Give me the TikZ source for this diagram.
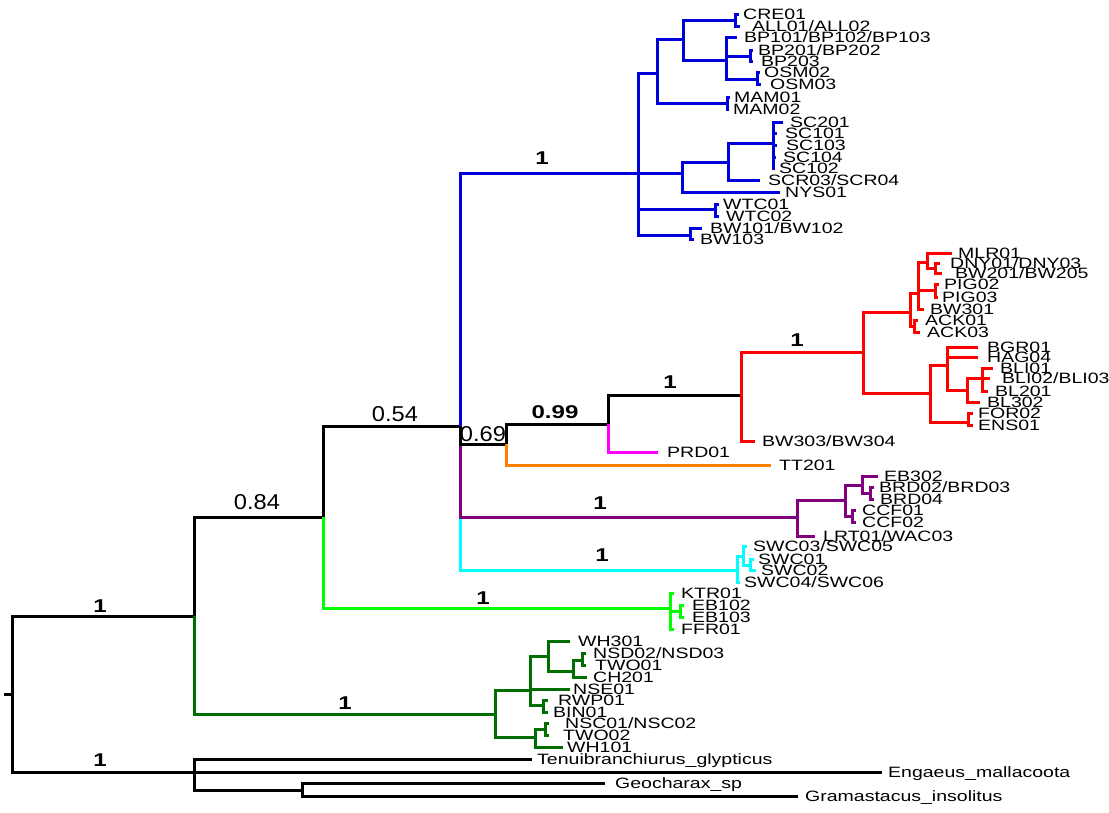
\documentclass[tikz,border=0pt]{standalone}
\usepackage{fontspec}
\newfontfamily\labfont[FakeStretch=1.3]{Liberation Sans}
\newfontfamily\numfont[FakeStretch=1.1]{Liberation Sans}
\newfontfamily\numbfont[FakeStretch=1.3]{Liberation Sans}
\definecolor{cblue}{RGB}{0,0,220}
\definecolor{cred}{RGB}{255,0,0}
\definecolor{cpurple}{RGB}{128,0,128}
\definecolor{ccyan}{RGB}{0,255,255}
\definecolor{clgreen}{RGB}{0,255,0}
\definecolor{cdgreen}{RGB}{0,110,0}
\definecolor{corange}{RGB}{255,128,0}
\definecolor{cmagenta}{RGB}{255,0,255}
\tikzset{
  br/.style={line width=3pt},
  leaf/.style={anchor=west, inner sep=0pt, text height=10.7pt, text depth=0pt,
    font=\labfont\fontsize{15}{16}\selectfont},
  bsr/.style={inner sep=0pt, font=\numfont\fontsize{21.5}{22}\selectfont},
  bsb/.style={inner sep=0pt, font=\numbfont\bfseries\fontsize{18.5}{19}\selectfont}
}
% #1 colour, #2 parent, #3 name, #4 tip x, #5 text x, #6 y, #7 text
\newcommand\mkleaf[7]{\node[leaf] (#3) at (#5,#6) {#7};
  \draw[br,#1] (#2) |- ([xshift=#4pt-#5pt]#3.west);}
% #1 colour, #2 parent, #3 name, #4 x, #5 y
\newcommand\mkint[5]{\coordinate (#3) at (#4,#5); \draw[br,#1] (#2) |- (#3);}
\begin{document}
\begin{tikzpicture}[x=1pt,y=-1pt]
\useasboundingbox (0,0) rectangle (1109,812);
% root
\coordinate (stub) at (4,694);
\coordinate (rt) at (12,694);
\draw[br] (stub) -- (rt);
\mkint{black}{rt}{I1}{194}{616}
\mkint{black}{I1}{I2}{323}{517}
\mkint{cdgreen}{I1}{G0}{495}{714}
\mkint{black}{I2}{I3}{460}{426}
\mkint{clgreen}{I2}{LG}{670}{608}
\mkint{ccyan}{I3}{C0}{737}{570}
\mkint{cpurple}{I3}{P1}{797}{517}
\mkint{cblue}{I3}{B0}{638}{173}
\mkint{black}{I3}{I4}{506}{444}
\mkint{black}{I4}{I5}{608}{424}
\mkleaf{corange}{I4}{lTT201}{771}{779}{465}{TT201}
\mkint{black}{I5}{R}{741}{395}
\mkleaf{cmagenta}{I5}{lPRD01}{658}{667}{452}{PRD01}
\mkint{cred}{R}{R0}{863}{352}
\mkleaf{cred}{R}{lBW303}{755}{762}{441}{BW303/BW304}
% red clade
\mkint{cred}{R0}{Ru}{910}{312}
\mkint{cred}{R0}{Rl}{930}{393}
\mkint{cred}{Ru}{R2}{918}{293}
\mkint{cred}{Ru}{ACK}{914}{326}
\mkleaf{cred}{ACK}{lACK01}{918}{925}{320}{ACK01}
\mkleaf{cred}{ACK}{lACK03}{920}{927}{332}{ACK03}
\mkint{cred}{R2}{R3}{927}{262}
\mkint{cred}{R2}{PIG}{935}{290}
\mkleaf{cred}{R2}{lBW301}{924}{930}{309}{BW301}
\mkleaf{cred}{R3}{lMLR01}{952}{958}{253}{MLR01}
\mkint{cred}{R3}{DB}{935}{268}
\mkleaf{cred}{DB}{lDNY}{940}{950}{263}{DNY01/DNY03}
\mkleaf{cred}{DB}{lBW201}{942}{955}{273}{BW201/BW205}
\mkleaf{cred}{PIG}{lPIG02}{939}{944}{284}{PIG02}
\mkleaf{cred}{PIG}{lPIG03}{938}{942}{297}{PIG03}
\mkint{cred}{Rl}{Rh}{947}{365}
\mkint{cred}{Rl}{FE}{968}{422}
\mkleaf{cred}{Rh}{lBGR01}{978}{987}{347}{BGR01}
\mkleaf{cred}{Rh}{lHAG04}{978}{987}{357}{HAG04}
\mkint{cred}{Rh}{BLn}{967}{390}
\mkint{cred}{BLn}{BLI}{982}{378}
\mkleaf{cred}{BLn}{lBL302}{980}{987}{402}{BL302}
\mkleaf{cred}{BLI}{lBLI01}{993}{1000}{368}{BLI01}
\mkleaf{cred}{BLI}{lBLI02}{990}{1002}{378}{BLI02/BLI03}
\mkleaf{cred}{BLI}{lBL201}{988}{995}{391}{BL201}
\mkleaf{cred}{FE}{lFOR02}{973}{978}{413}{FOR02}
\mkleaf{cred}{FE}{lENS01}{973}{978}{425}{ENS01}
% blue clade
\mkint{cblue}{B0}{B1}{657}{73}
\mkint{cblue}{B0}{B6}{682}{173}
\mkint{cblue}{B0}{WTC}{715}{209}
\mkint{cblue}{B0}{BW}{690}{235}
\mkint{cblue}{B1}{B2}{683}{39}
\mkint{cblue}{B1}{MAM}{727}{103}
\mkint{cblue}{B2}{CA}{735}{20}
\mkint{cblue}{B2}{B3}{726}{60}
\mkleaf{cblue}{CA}{lCRE01}{739}{743}{14}{CRE01}
\mkleaf{cblue}{CA}{lALL}{740}{752}{26}{ALL01/ALL02}
\mkleaf{cblue}{B3}{lBP101}{737}{744}{37}{BP101/BP102/BP103}
\mkint{cblue}{B3}{BPb}{750}{56}
\mkint{cblue}{B3}{OSM}{757}{79}
\mkleaf{cblue}{BPb}{lBP201}{753}{758}{50}{BP201/BP202}
\mkleaf{cblue}{BPb}{lBP203}{753}{761}{61}{BP203}
\mkleaf{cblue}{OSM}{lOSM02}{760}{764}{72}{OSM02}
\mkleaf{cblue}{OSM}{lOSM03}{761}{770}{84}{OSM03}
\mkleaf{cblue}{MAM}{lMAM01}{730}{734}{97}{MAM01}
\mkleaf{cblue}{MAM}{lMAM02}{729}{733}{109}{MAM02}
\mkint{cblue}{B6}{SCn}{728}{162}
\mkleaf{cblue}{B6}{lNYS01}{780}{785}{192}{NYS01}
\mkint{cblue}{SCn}{SCc}{773}{143}
\mkleaf{cblue}{SCn}{lSCR}{760}{768}{180}{SCR03/SCR04}
\mkleaf{cblue}{SCc}{lSC201}{783}{790}{122}{SC201}
\mkleaf{cblue}{SCc}{lSC101}{777}{785}{133}{SC101}
\mkleaf{cblue}{SCc}{lSC103}{777}{786}{145}{SC103}
\mkleaf{cblue}{SCc}{lSC104}{776}{783}{157}{SC104}
\mkleaf{cblue}{SCc}{lSC102}{775}{779}{168}{SC102}
\mkleaf{cblue}{WTC}{lWTC01}{719}{723}{204}{WTC01}
\mkleaf{cblue}{WTC}{lWTC02}{719}{726}{216}{WTC02}
\mkleaf{cblue}{BW}{lBW101}{702}{710}{228}{BW101/BW102}
\mkleaf{cblue}{BW}{lBW103}{694}{700}{239}{BW103}
% purple clade
\mkint{cpurple}{P1}{P2}{845}{500}
\mkleaf{cpurple}{P1}{lLRT}{815}{823}{536}{LRT01/WAC03}
\mkint{cpurple}{P2}{P3}{862}{485}
\mkint{cpurple}{P2}{CCF}{852}{516}
\mkleaf{cpurple}{P3}{lEB302}{878}{884}{476}{EB302}
\mkint{cpurple}{P3}{BRD}{870}{493}
\mkleaf{cpurple}{BRD}{lBRD02}{874}{879}{487}{BRD02/BRD03}
\mkleaf{cpurple}{BRD}{lBRD04}{874}{880}{499}{BRD04}
\mkleaf{cpurple}{CCF}{lCCF01}{856}{862}{510}{CCF01}
\mkleaf{cpurple}{CCF}{lCCF02}{856}{862}{522}{CCF02}
% cyan clade
\mkint{ccyan}{C0}{Cs}{743}{556}
\mkleaf{ccyan}{C0}{lSWC04}{740}{744}{582}{SWC04/SWC06}
\mkleaf{ccyan}{Cs}{lSWC03}{747}{753}{546}{SWC03/SWC05}
\mkint{ccyan}{Cs}{Cs2}{750}{565}
\mkleaf{ccyan}{Cs2}{lSWC01}{754}{758}{559}{SWC01}
\mkleaf{ccyan}{Cs2}{lSWC02}{756}{761}{570}{SWC02}
% light green clade
\mkleaf{clgreen}{LG}{lKTR01}{674}{681}{593}{KTR01}
\mkint{clgreen}{LG}{EB}{680}{611}
\mkleaf{clgreen}{LG}{lFFR01}{674}{681}{629}{FFR01}
\mkleaf{clgreen}{EB}{lEB102}{684}{692}{605}{EB102}
\mkleaf{clgreen}{EB}{lEB103}{684}{692}{617}{EB103}
% dark green clade
\mkint{cdgreen}{G0}{G1}{530}{690}
\mkint{cdgreen}{G0}{G5}{535}{737}
\mkint{cdgreen}{G1}{G2}{548}{656}
\mkleaf{cdgreen}{G1}{lNSE01}{570}{573}{689}{NSE01}
\mkint{cdgreen}{G1}{RB}{543}{705}
\mkleaf{cdgreen}{G2}{lWH301}{570}{578}{641}{WH301}
\mkint{cdgreen}{G2}{G3}{573}{671}
\mkint{cdgreen}{G3}{NT}{582}{660}
\mkleaf{cdgreen}{G3}{lCH201}{587}{593}{677}{CH201}
\mkleaf{cdgreen}{NT}{lNSD}{586}{593}{653}{NSD02/NSD03}
\mkleaf{cdgreen}{NT}{lTWO01}{586}{595}{665}{TWO01}
\mkleaf{cdgreen}{RB}{lRWP01}{548}{558}{700}{RWP01}
\mkleaf{cdgreen}{RB}{lBIN01}{548}{553}{712}{BIN01}
\mkint{cdgreen}{G5}{NT2}{545}{729}
\mkleaf{cdgreen}{G5}{lWH101}{563}{567}{747}{WH101}
\mkleaf{cdgreen}{NT2}{lNSC}{549}{565}{723}{NSC01/NSC02}
\mkleaf{cdgreen}{NT2}{lTWO02}{549}{563}{735}{TWO02}
% outgroup
\mkint{black}{rt}{O1}{194}{772}
\mkleaf{black}{O1}{lTen}{532}{537}{759}{Tenuibranchiurus\_glypticus}
\mkleaf{black}{O1}{lEng}{882}{888}{772}{Engaeus\_mallacoota}
\mkint{black}{O1}{O2}{302}{790}
\mkleaf{black}{O2}{lGeo}{605}{615}{783}{Geocharax\_sp}
\mkleaf{black}{O2}{lGra}{798}{805}{796}{Gramastacus\_insolitus}
% support values
\node[bsb] (b1) at (100,606) {1};
\node[bsb] (b2) at (100,760) {1};
\node[bsr] (b3) at (257,502) {0.84};
\node[bsr] (b4) at (395,414) {0.54};
\node[bsr] (b5) at (483,434) {0.69};
\node[bsb] (b6) at (555,412) {0.99};
\node[bsb] (b7) at (670,382) {1};
\node[bsb] (b8) at (797,340) {1};
\node[bsb] (b9) at (542,158) {1};
\node[bsb] (b10) at (600,503) {1};
\node[bsb] (b11) at (602,555) {1};
\node[bsb] (b12) at (483,598) {1};
\node[bsb] (b13) at (345,703) {1};
\end{tikzpicture}
\end{document}
